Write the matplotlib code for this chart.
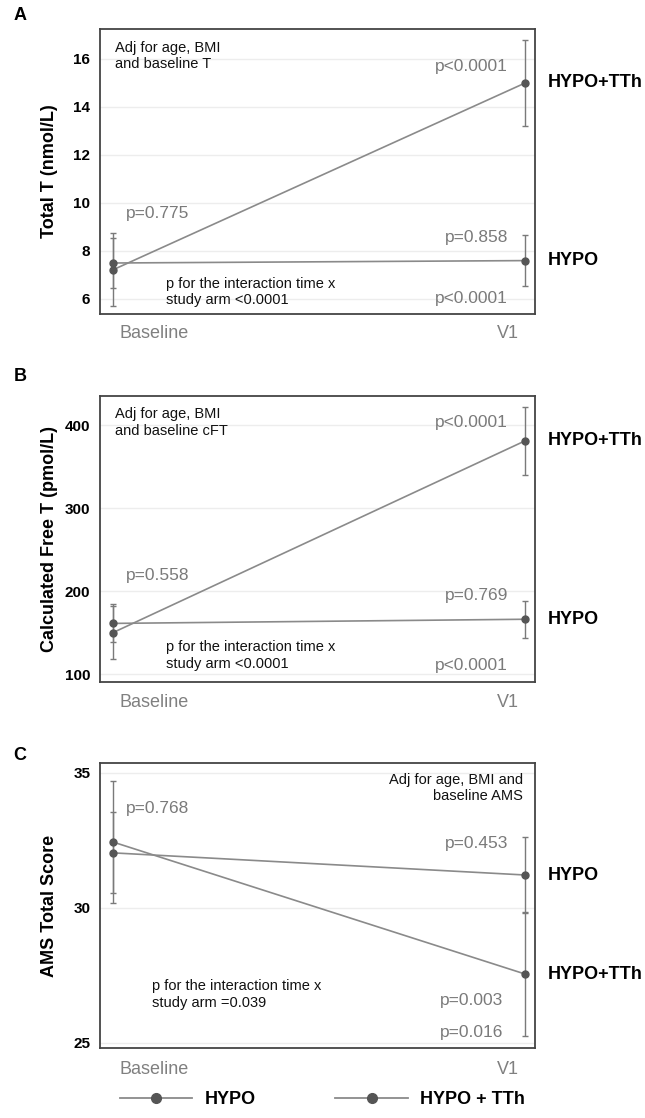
import matplotlib.pyplot as plt
import matplotlib.transforms as mtransforms
from matplotlib.lines import Line2D
import numpy as np

plt.rcParams['font.family'] = ['Liberation Sans', 'DejaVu Sans']

timepoints = ['Baseline', 'V1']
x = np.array([0, 1])

# A: total testosterone (nmol/L)
tt_hypo = [7.5, 7.6]
tt_hypo_err = [1.04, 1.05]
tt_tth = [7.22, 15.0]
tt_tth_err = [1.52, 1.8]

# B: calculated free testosterone (pmol/L)
cft_hypo = [161, 166]
cft_hypo_err = [23, 22]
cft_tth = [150, 381]
cft_tth_err = [32, 41]

# C: AMS total score
ams_hypo = [32.04, 31.22]
ams_hypo_err = [1.5, 1.4]
ams_tth = [32.44, 27.55]
ams_tth_err = [2.26, 2.3]

LINE = '#8a8a8a'
MARK = '#555555'
ERR = '#7a7a7a'
PGRAY = '#7a7a7a'

W, H = 645, 1118
fig = plt.figure(figsize=(W / 100, H / 100), dpi=100)


def axes_box(top, bottom, left=100, right=535):
    return [left / W, 1 - bottom / H, (right - left) / W, (bottom - top) / H]


def draw_panel(ax, hypo, hypo_err, tth, tth_err, ylim, yticks, ylabel, xlab_y):
    for vals, errs in ((hypo, hypo_err), (tth, tth_err)):
        ax.errorbar(x, vals, yerr=errs, color=LINE, lw=1.2, ecolor=ERR,
                    elinewidth=1, capsize=2.5, capthick=1, marker='o', ms=5,
                    mfc=MARK, mec=MARK, zorder=3)
    ax.set_xlim(-0.032, 1.024)
    ax.set_ylim(*ylim)
    ax.set_yticks(yticks)
    ax.set_xticks([])
    ax.grid(axis='y', color='#ededed', lw=1)
    ax.set_axisbelow(True)
    ax.tick_params(axis='y', length=0, pad=7, labelsize=11)
    for lab in ax.get_yticklabels():
        lab.set_fontweight('bold')
    for sp in ax.spines.values():
        sp.set_color('#444444')
        sp.set_linewidth(1.3)
    ax.set_ylabel(ylabel, fontsize=13, fontweight='bold')
    ax.yaxis.set_label_coords(-0.097, 0.5)
    # right-hand group labels
    tr = mtransforms.blended_transform_factory(ax.transAxes, ax.transData)
    ax.text(1.03, tth[1], 'HYPO+TTh', transform=tr, fontsize=13,
            fontweight='bold', va='center', ha='left', clip_on=False)
    ax.text(1.03, hypo[1], 'HYPO', transform=tr, fontsize=13,
            fontweight='bold', va='center', ha='left', clip_on=False)
    # time point labels
    ax.text(0.124, xlab_y, timepoints[0], transform=ax.transAxes, fontsize=13,
            color='#808080', ha='center', va='center')
    ax.text(0.938, xlab_y, timepoints[1], transform=ax.transAxes, fontsize=13,
            color='#808080', ha='center', va='center')


def ptext(ax, xx, yy, s, ha='right'):
    ax.text(xx, yy, s, transform=ax.transAxes, fontsize=12.5, color=PGRAY,
            ha=ha, va='center')


def note(ax, xx, yy, s, ha='left'):
    ax.text(xx, yy, s, transform=ax.transAxes, fontsize=10.5, color='#111111',
            ha=ha, va='center', linespacing=1.25)


# ---- A ----
axA = fig.add_axes(axes_box(29, 314))
draw_panel(axA, tt_hypo, tt_hypo_err, tt_tth, tt_tth_err, (5.375, 17.25),
           [6, 8, 10, 12, 14, 16], 'Total T (nmol/L)', -0.070)
note(axA, 0.0345, 0.905, 'Adj for age, BMI\nand baseline T')
ptext(axA, 0.06, 0.354, 'p=0.775', ha='left')
note(axA, 0.152, 0.077, 'p for the interaction time x\nstudy arm <0.0001')
ptext(axA, 0.938, 0.867, 'p<0.0001')
ptext(axA, 0.938, 0.270, 'p=0.858')
ptext(axA, 0.938, 0.053, 'p<0.0001')

# ---- B ----
axB = fig.add_axes(axes_box(396, 682))
draw_panel(axB, cft_hypo, cft_hypo_err, cft_tth, cft_tth_err, (90.4, 435),
           [100, 200, 300, 400], 'Calculated Free T (pmol/L)', -0.070)
note(axB, 0.0345, 0.907, 'Adj for age, BMI\nand baseline cFT')
ptext(axB, 0.06, 0.374, 'p=0.558', ha='left')
note(axB, 0.152, 0.093, 'p for the interaction time x\nstudy arm <0.0001')
ptext(axB, 0.938, 0.906, 'p<0.0001')
ptext(axB, 0.938, 0.304, 'p=0.769')
ptext(axB, 0.938, 0.056, 'p<0.0001')

# ---- C ----
axC = fig.add_axes(axes_box(763, 1048))
draw_panel(axC, ams_hypo, ams_hypo_err, ams_tth, ams_tth_err, (24.81, 35.37),
           [25, 30, 35], 'AMS Total Score', -0.077)
note(axC, 0.972, 0.912, 'Adj for age, BMI and\nbaseline AMS', ha='right')
ptext(axC, 0.06, 0.839, 'p=0.768', ha='left')
note(axC, 0.12, 0.189, 'p for the interaction time x\nstudy arm =0.039')
ptext(axC, 0.938, 0.719, 'p=0.453')
ptext(axC, 0.926, 0.168, 'p=0.003')
ptext(axC, 0.926, 0.056, 'p=0.016')

# panel letters
for letter, ypx in (('A', 15), ('B', 377), ('C', 756)):
    fig.text(20 / W, 1 - ypx / H, letter, fontsize=13, fontweight='bold',
             ha='center', va='center')

handles = [Line2D([], [], color=LINE, lw=1.3, marker='o', ms=7,
                  mfc=MARK, mec=MARK) for _ in range(2)]
fig.legend(handles, ['HYPO', 'HYPO + TTh'], loc='center left',
           bbox_to_anchor=(120 / W, 1 - 1100 / H), ncol=2, frameon=False,
           handlelength=4, handletextpad=0.7, columnspacing=4.4,
           borderaxespad=0, borderpad=0,
           prop={'weight': 'bold', 'size': 13})

fig.savefig('out.png', dpi=100)
